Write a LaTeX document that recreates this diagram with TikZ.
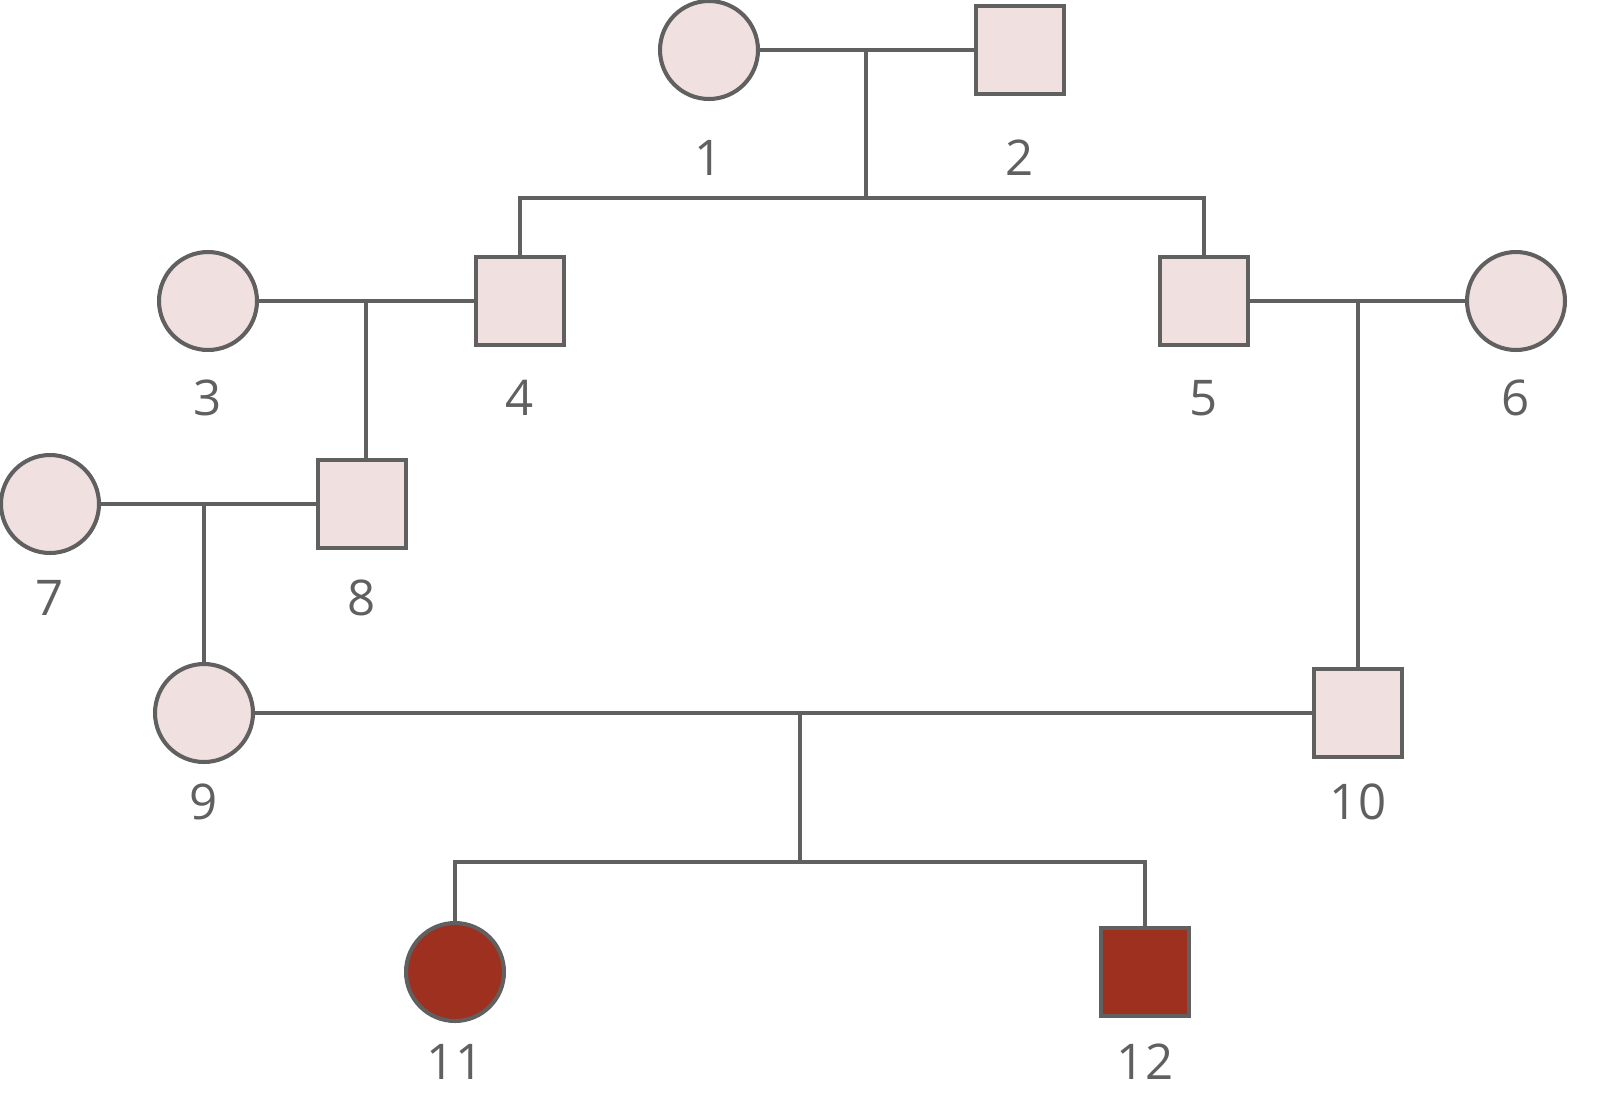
\documentclass[tikz,border=0pt]{standalone}
\usepackage{fontspec}
\setmainfont{Open Sans}
\usepackage{tikz}
\usetikzlibrary{positioning}
\definecolor{pale}{HTML}{F0E0DF}
\definecolor{sick}{HTML}{9E3020}
\definecolor{edge}{HTML}{606060}

\begin{document}
\begin{tikzpicture}[x=0.02cm,y=-0.02cm,line width=2.3pt]
  \tikzstyle{female}=[circle,draw=edge,fill=pale,line width=2.3pt,minimum size=1.96cm,inner sep=0pt]
  \tikzstyle{male}=[rectangle,draw=edge,fill=pale,line width=2.3pt,minimum size=1.76cm,inner sep=0pt]
  \tikzstyle{tag}=[text=edge,font=\fontsize{28}{32}\selectfont]
  \tikzstyle{line}=[draw=edge,line width=2.3pt]
  \useasboundingbox (0,0) rectangle (1599,1116);

  \node[female] (P1) at (709,50)  {};
  \node[male]   (P2) at (1020,50) {};
  \node[female] (P3) at (208,301) {};
  \node[male]   (P4) at (520,301) {};
  \node[male]   (P5) at (1204,301) {};
  \node[female] (P6) at (1516,301) {};
  \node[female] (P7) at (50,504)  {};
  \node[male]   (P8) at (362,504) {};
  \node[female] (P9) at (204,713) {};
  \node[male]   (P10) at (1358,713) {};
  \node[female,fill=sick] (P11) at (455,972) {};
  \node[male,fill=sick]   (P12) at (1145,972) {};

  \node[tag] (L1) at (709,158) {1};
  \node[tag] (L2) at (1020,158) {2};
  \node[tag] (L3) at (208,398) {3};
  \node[tag] (L4) at (520,398) {4};
  \node[tag] (L5) at (1204,398) {5};
  \node[tag] (L6) at (1516,398) {6};
  \node[tag] (L7) at (50,598) {7};
  \node[tag] (L8) at (362,598) {8};
  \node[tag] (L9) at (204,802) {9};
  \node[tag] (L10) at (1358,802) {10};
  \node[tag] (L11) at (455,1062) {11};
  \node[tag] (L12) at (1145,1062) {12};

  \coordinate (M12) at (866,50);
  \coordinate (S12) at (866,198);
  \coordinate (M34) at (366,301);
  \coordinate (M56) at (1358,301);
  \coordinate (M78) at (204,504);
  \coordinate (M910) at (800,713);
  \coordinate (S910) at (800,862);

  \path[line] (P1) -- (P2)
              (M12) -- (S12)
              (P4.north) |- (S12) -| (P5.north)
              (P3) -- (P4)
              (M34) -- (P8.north -| M34)
              (P5) -- (P6)
              (M56) -- (P10.north)
              (P7) -- (P8)
              (M78) -- (P9.north)
              (P9) -- (P10)
              (M910) -- (S910)
              (P11.north) |- (S910) -| (P12.north);
\end{tikzpicture}
\end{document}
